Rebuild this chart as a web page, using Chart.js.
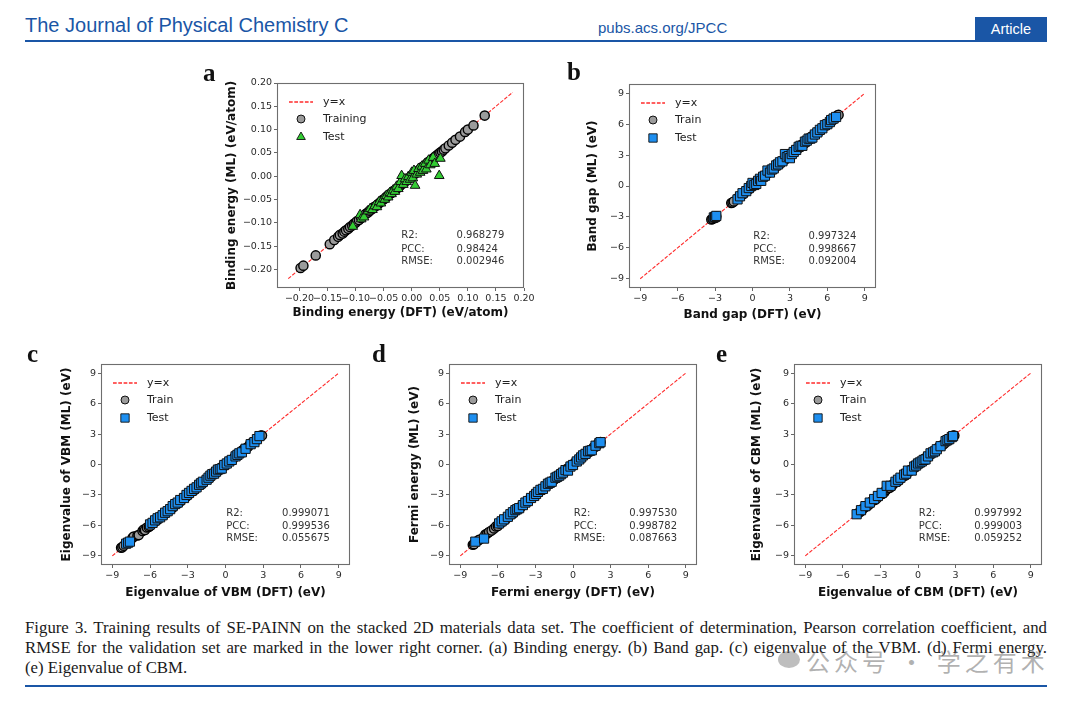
<!DOCTYPE html>
<html>
<head>
<meta charset="utf-8">
<script src="https://cdn.jsdelivr.net/npm/chart.js@4.4.1/dist/chart.umd.min.js"></script>
<style>
  body { margin: 0; width: 1080px; height: 701px; background: #fff; position: relative; overflow: hidden; }
  .abs { position: absolute; }
  canvas { position: absolute; }
  .hdr { color: #1a56a6; font-family: "Liberation Sans", Arial, sans-serif; }
  .letter { font-family: "Liberation Serif", serif; font-weight: bold; font-size: 25px; line-height: 24px; color: #111; }
  .cap { left: 25px; width: 1022px; font-family: "Liberation Serif", serif; font-size: 16.8px; line-height: 20px; color: #1a1a1a; white-space: nowrap; }
  .just { text-align: justify; text-align-last: justify; white-space: normal; }
  .rule { left: 25px; width: 1022px; height: 2px; background: #1a56a6; }
</style>
</head>
<body>

<div class="abs hdr" style="left:25px;top:14px;font-size:20px;">The Journal of Physical Chemistry C</div>
<div class="abs hdr" style="left:598px;top:19px;font-size:15px;">pubs.acs.org/JPCC</div>
<div class="abs hdr" style="left:975px;top:17px;width:72px;height:24px;background:#1a56a6;color:#fff;font-size:14.5px;line-height:24px;text-align:center;">Article</div>
<div class="abs rule" style="top:40px;"></div>

<canvas id="cA"></canvas>
<canvas id="cB"></canvas>
<canvas id="cC"></canvas>
<canvas id="cD"></canvas>
<canvas id="cE"></canvas>

<div class="abs letter" style="left:203px;top:61px;">a</div>
<div class="abs letter" style="left:567px;top:60px;">b</div>
<div class="abs letter" style="left:27px;top:342px;">c</div>
<div class="abs letter" style="left:372px;top:342px;">d</div>
<div class="abs letter" style="left:716px;top:342px;">e</div>

<div class="abs cap just" style="top:618px;">Figure 3. Training results of SE-PAINN on the stacked 2D materials data set. The coefficient of determination, Pearson correlation coefficient, and</div>
<div class="abs cap just" style="top:638px;">RMSE for the validation set are marked in the lower right corner. (a) Binding energy. (b) Band gap. (c) eigenvalue of the VBM. (d) Fermi energy.</div>
<div class="abs cap" style="top:658px;">(e) Eigenvalue of CBM.</div>
<div class="abs rule" style="top:685px;"></div>

<div class="abs" style="left:778px;top:651px;width:22px;height:17px;border-radius:50%;background:rgba(110,110,110,0.45);"></div>
<div class="abs" style="left:806px;top:643px;font-family:'Noto Sans CJK SC';font-size:24px;letter-spacing:4px;color:rgba(100,100,100,0.5);">公众号 · 学之有术</div>

<script>
// tick values
const ticksBinding = [-0.2, -0.15, -0.1, -0.05, 0, 0.05, 0.1, 0.15, 0.2];
const ticksEv = [-9, -6, -3, 0, 3, 6, 9];

// (a) binding energy, [DFT, ML]
const trainA = [[-0.198,-0.197],[-0.193,-0.192],[-0.171,-0.170],[-0.146,-0.146],[-0.138,-0.137],[-0.131,-0.130],
  [-0.128,-0.126],[-0.123,-0.123],[-0.120,-0.119],[-0.117,-0.116],[-0.113,-0.113],[-0.110,-0.109],[-0.106,-0.106],
  [-0.103,-0.102],[-0.100,-0.100],[-0.098,-0.097],[-0.094,-0.094],[-0.090,-0.090],[-0.086,-0.085],[-0.082,-0.081],
  [-0.078,-0.078],[-0.075,-0.074],[-0.071,-0.071],[-0.068,-0.067],[-0.064,-0.064],[-0.060,-0.060],[-0.056,-0.056],
  [-0.053,-0.052],[-0.049,-0.049],[-0.046,-0.046],[-0.043,-0.042],[-0.040,-0.039],[-0.036,-0.036],[-0.033,-0.032],
  [-0.029,-0.029],[-0.026,-0.026],[-0.022,-0.022],[-0.019,-0.018],[-0.015,-0.015],[-0.012,-0.012],[-0.009,-0.008],
  [-0.006,-0.005],[-0.003,-0.003],[0.000,0.001],[0.003,0.003],[0.006,0.006],[0.009,0.009],[0.012,0.012],
  [0.015,0.015],[0.018,0.019],[0.021,0.021],[0.024,0.024],[0.027,0.027],[0.030,0.031],[0.033,0.033],[0.036,0.036],
  [0.039,0.039],[0.042,0.042],[0.045,0.045],[0.048,0.048],[0.051,0.051],[0.054,0.053],[0.057,0.057],[0.060,0.060],
  [0.066,0.066],[0.072,0.072],[0.078,0.078],[0.086,0.085],[0.095,0.095],[0.100,0.100],[0.110,0.109],[0.130,0.130]];
const testA = [[-0.105,-0.108],[-0.092,-0.083],[-0.090,-0.092],[-0.085,-0.088],[-0.078,-0.075],[-0.074,-0.070],
  [-0.070,-0.072],[-0.066,-0.064],[-0.062,-0.066],[-0.058,-0.055],[-0.055,-0.058],[-0.051,-0.049],[-0.048,-0.050],
  [-0.045,-0.042],[-0.042,-0.045],[-0.039,-0.036],[-0.036,-0.038],[-0.033,-0.030],[-0.030,-0.033],[-0.027,-0.022],
  [-0.024,-0.027],[-0.020,-0.012],[-0.018,0.001],[-0.015,-0.018],[-0.012,-0.006],[-0.009,-0.012],[-0.006,-0.001],
  [-0.003,-0.007],[0.000,0.008],[0.002,-0.004],[0.004,0.012],[0.006,-0.020],[0.009,0.004],[0.012,0.016],
  [0.015,0.008],[0.018,0.021],[0.020,0.012],[0.024,0.027],[0.026,0.015],[0.030,0.034],[0.033,0.024],
  [0.038,0.040],[0.041,0.027],[0.049,0.001],[0.051,0.038]];

// (b) band gap
const trainB = [[-3.30,-3.25],[-3.20,-3.20],[-3.10,-3.05],[-3.00,-3.10],[-2.90,-2.95],[-1.70,-1.65],[-1.60,-1.60],
  [-1.50,-1.50],[-1.15,-1.15],[-1.00,-1.00],[-0.85,-0.85],[-0.70,-0.75],[-0.55,-0.50],[-0.40,-0.35],[-0.30,-0.30],
  [-0.20,-0.25],[-0.10,-0.05],[0.00,0.05],[0.10,0.10],[0.20,0.15],[0.30,0.35],[0.40,0.45],[0.50,0.50],[0.60,0.55],
  [0.70,0.70],[0.80,0.85],[0.90,0.90],[1.00,0.95],[1.10,1.15],[1.20,1.25],[1.30,1.30],[1.40,1.35],[1.50,1.55],
  [1.60,1.65],[1.70,1.70],[1.80,1.75],[1.90,1.95],[2.00,2.05],[2.10,2.10],[2.20,2.15],[2.30,2.35],[2.40,2.45],
  [2.50,2.50],[2.60,2.55],[2.70,2.75],[2.80,2.85],[2.90,2.90],[3.00,2.95],[3.10,3.15],[3.20,3.25],[3.30,3.30],
  [3.40,3.35],[3.50,3.55],[3.60,3.65],[3.70,3.70],[3.80,3.75],[3.90,3.95],[4.00,4.05],[4.10,4.10],[4.20,4.15],
  [4.30,4.35],[4.40,4.45],[4.50,4.50],[4.60,4.55],[4.70,4.75],[4.80,4.85],[4.90,4.90],[5.00,4.95],[5.10,5.15],
  [5.20,5.25],[5.35,5.30],[5.50,5.45],[5.65,5.70],[5.80,5.85],[5.95,5.90],[6.10,6.05],[6.25,6.30],[6.40,6.45],
  [6.55,6.50],[6.70,6.70],[6.80,6.85],[6.90,6.90]];
const testB = [[-3.10,-3.05],[-3.00,-3.00],[-2.90,-2.90],[-1.20,-1.30],[-1.00,-1.00],[-0.80,-0.70],[-0.50,-0.50],
  [-0.30,-0.20],[-0.10,0.00],[0.00,0.30],[0.15,0.10],[0.30,0.20],[0.45,0.50],[0.60,0.70],[0.70,0.50],[0.85,0.90],
  [1.00,1.00],[1.20,1.50],[1.40,1.30],[1.55,1.60],[1.70,1.70],[1.90,2.00],[2.05,2.10],[2.20,2.30],[2.40,2.40],
  [2.60,3.10],[2.75,2.80],[2.90,2.90],[3.00,2.70],[3.15,3.10],[3.30,3.30],[3.50,3.50],[3.70,3.80],[3.85,3.90],
  [4.00,3.90],[4.20,4.30],[4.35,4.40],[4.50,4.60],[4.65,4.60],[4.80,4.70],[5.00,5.00],[5.20,5.20],[5.40,5.45],
  [5.60,5.60],[5.80,5.90],[6.00,6.00],[6.20,6.20],[6.30,6.40],[6.50,6.55],[6.70,6.70]];

// (c) eigenvalue of VBM
const trainC = [[-8.30,-8.20],[-8.20,-8.15],[-8.10,-8.00],[-7.40,-7.25],[-7.30,-7.10],[-7.00,-7.00],[-6.90,-6.95],
  [-6.60,-6.55],[-6.50,-6.40],[-6.40,-6.45],[-6.25,-6.20],[-6.10,-6.15],[-6.00,-6.05],[-5.85,-5.80],[-5.70,-5.65],
  [-5.55,-5.60],[-5.40,-5.45],[-5.25,-5.20],[-5.10,-5.05],[-4.95,-5.00],[-4.80,-4.85],[-4.65,-4.60],[-4.50,-4.45],
  [-4.35,-4.40],[-4.20,-4.25],[-4.05,-4.00],[-3.90,-3.85],[-3.75,-3.80],[-3.60,-3.65],[-3.45,-3.40],[-3.30,-3.25],
  [-3.15,-3.20],[-3.00,-3.05],[-2.85,-2.80],[-2.70,-2.65],[-2.55,-2.60],[-2.40,-2.45],[-2.25,-2.20],[-2.10,-2.05],
  [-1.95,-2.00],[-1.80,-1.85],[-1.65,-1.60],[-1.50,-1.45],[-1.35,-1.40],[-1.20,-1.25],[-1.05,-1.00],[-0.90,-0.85],
  [-0.75,-0.80],[-0.60,-0.65],[-0.45,-0.40],[-0.30,-0.25],[-0.15,-0.20],[0.00,-0.05],[0.15,0.20],[0.30,0.35],
  [0.45,0.40],[0.60,0.55],[0.75,0.80],[0.90,0.95],[1.05,1.00],[1.20,1.15],[1.35,1.40],[1.50,1.55],[1.65,1.60],
  [1.80,1.75],[1.95,2.00],[2.10,2.15],[2.25,2.20],[2.40,2.35],[2.55,2.60],[2.70,2.75],[2.80,2.85],[2.90,2.85]];
const testC = [[-7.90,-7.80],[-7.75,-7.70],[-7.60,-7.60],[-6.00,-5.90],[-5.80,-5.75],[-5.60,-5.50],[-5.40,-5.30],
  [-5.20,-5.20],[-5.00,-5.00],[-4.80,-4.75],[-4.60,-4.60],[-4.40,-4.40],[-4.20,-4.10],[-4.00,-3.90],[-3.80,-3.75],
  [-3.60,-3.50],[-3.30,-3.30],[-3.10,-3.00],[-2.90,-2.80],[-2.70,-2.60],[-2.50,-2.40],[-2.30,-2.25],[-2.10,-2.00],
  [-1.95,-1.85],[-1.80,-1.70],[-1.50,-1.50],[-1.35,-1.30],[-1.20,-1.10],[-1.05,-0.95],[-0.90,-0.90],[-0.75,-0.70],
  [-0.60,-0.50],[-0.45,-0.45],[-0.30,-0.40],[-0.10,-0.05],[0.10,0.10],[0.30,0.30],[0.50,0.45],[0.80,0.80],
  [0.95,0.95],[1.10,1.10],[1.30,1.20],[1.60,1.55],[2.00,2.00],[2.30,2.20],[2.50,2.50],[2.70,2.80]];

// (d) Fermi energy
const trainD = [[-8.00,-7.90],[-7.90,-7.85],[-7.60,-7.50],[-7.45,-7.40],[-7.00,-6.90],[-6.85,-6.80],[-6.70,-6.65],
  [-6.50,-6.50],[-6.30,-6.30],[-6.15,-6.10],[-6.00,-6.05],[-5.85,-5.80],[-5.70,-5.70],[-5.55,-5.50],[-5.40,-5.45],
  [-5.25,-5.20],[-5.10,-5.10],[-4.95,-4.90],[-4.80,-4.85],[-4.65,-4.60],[-4.50,-4.50],[-4.35,-4.30],[-4.20,-4.25],
  [-4.05,-4.00],[-3.90,-3.90],[-3.75,-3.70],[-3.60,-3.65],[-3.45,-3.40],[-3.30,-3.30],[-3.15,-3.10],[-3.00,-3.05],
  [-2.85,-2.80],[-2.70,-2.70],[-2.55,-2.50],[-2.40,-2.45],[-2.25,-2.20],[-2.10,-2.10],[-1.95,-1.90],[-1.80,-1.85],
  [-1.65,-1.60],[-1.50,-1.50],[-1.35,-1.30],[-1.20,-1.25],[-1.05,-1.00],[-0.90,-0.90],[-0.75,-0.70],[-0.60,-0.65],
  [-0.45,-0.40],[-0.30,-0.30],[-0.15,-0.10],[0.00,-0.05],[0.15,0.20],[0.30,0.30],[0.45,0.50],[0.60,0.55],
  [0.75,0.80],[0.90,0.90],[1.05,1.10],[1.20,1.15],[1.35,1.40],[1.50,1.50],[1.65,1.70],[1.80,1.75],[1.95,2.00],
  [2.10,2.10],[2.20,2.20]];
const testD = [[-7.80,-7.60],[-7.10,-7.30],[-5.90,-5.80],[-5.70,-5.60],[-5.50,-5.40],[-5.20,-5.15],[-5.00,-4.90],
  [-4.80,-4.70],[-4.60,-4.50],[-4.45,-4.40],[-4.30,-4.30],[-4.00,-4.00],[-3.80,-3.75],[-3.60,-3.60],[-3.35,-3.30],
  [-3.10,-3.10],[-2.95,-2.90],[-2.80,-2.70],[-2.60,-2.50],[-2.40,-2.40],[-2.20,-2.15],[-2.00,-1.90],[-1.85,-1.80],
  [-1.70,-1.70],[-1.40,-1.30],[-1.25,-1.20],[-1.10,-1.10],[-0.95,-0.95],[-0.80,-0.80],[-0.60,-0.55],[-0.40,-0.60],
  [-0.20,-0.20],[0.00,-0.05],[0.30,0.30],[0.50,0.50],[0.65,0.70],[0.80,0.90],[1.00,1.05],[1.20,1.30],
  [1.35,1.35],[1.50,1.40],[1.80,1.85],[2.10,2.10],[2.20,2.20]];

// (e) eigenvalue of CBM
const trainE = [[-4.80,-4.80],[-4.65,-4.70],[-4.50,-4.55],[-4.35,-4.30],[-4.20,-4.15],[-4.05,-4.10],[-3.90,-3.95],
  [-3.75,-3.70],[-3.60,-3.55],[-3.45,-3.50],[-3.30,-3.35],[-3.15,-3.10],[-3.00,-2.95],[-2.85,-2.90],[-2.70,-2.75],
  [-2.55,-2.50],[-2.40,-2.35],[-2.25,-2.30],[-2.10,-2.15],[-1.95,-1.90],[-1.80,-1.75],[-1.65,-1.70],[-1.50,-1.55],
  [-1.35,-1.30],[-1.20,-1.15],[-1.05,-1.10],[-0.90,-0.95],[-0.75,-0.70],[-0.60,-0.55],[-0.45,-0.50],[-0.30,-0.35],
  [-0.15,-0.10],[0.00,0.05],[0.15,0.10],[0.30,0.25],[0.45,0.50],[0.60,0.65],[0.75,0.70],[0.90,0.85],[1.05,1.10],
  [1.20,1.25],[1.35,1.30],[1.50,1.45],[1.65,1.70],[1.80,1.85],[1.95,1.90],[2.10,2.05],[2.25,2.30],[2.40,2.45],
  [2.55,2.50],[2.70,2.70],[2.80,2.85],[2.90,2.85]];
const testE = [[-4.90,-4.90],[-4.55,-4.50],[-4.20,-4.10],[-3.85,-3.75],[-3.50,-3.40],[-3.20,-3.10],[-2.90,-2.80],
  [-2.50,-2.10],[-2.20,-2.10],[-1.80,-1.70],[-1.60,-1.50],[-1.40,-1.30],[-1.10,-1.00],[-0.95,-0.90],[-0.80,-0.60],
  [-0.50,-0.60],[-0.30,-0.20],[-0.15,-0.10],[0.00,0.10],[0.15,0.20],[0.30,0.30],[0.45,0.45],[0.60,0.50],
  [0.80,0.80],[1.00,1.10],[1.20,1.20],[1.35,1.30],[1.50,1.50],[1.80,1.80],[2.20,2.30],[2.35,2.40],[2.50,2.50],
  [2.70,2.70],[2.80,2.80]];

// stats text
const statsA = [["R2:", "0.968279"], ["PCC:", "0.98424"], ["RMSE:", "0.002946"]];
const statsB = [["R2:", "0.997324"], ["PCC:", "0.998667"], ["RMSE:", "0.092004"]];
const statsC = [["R2:", "0.999071"], ["PCC:", "0.999536"], ["RMSE:", "0.055675"]];
const statsD = [["R2:", "0.997530"], ["PCC:", "0.998782"], ["RMSE:", "0.087663"]];
const statsE = [["R2:", "0.997992"], ["PCC:", "0.999003"], ["RMSE:", "0.059252"]];

Chart.defaults.font.family = "DejaVu Sans";

const fmt2 = (v) => (v < 0 ? "\u2212" : "") + Math.abs(v).toFixed(2);
const fmt0 = (v) => (v < 0 ? "\u2212" : "") + Math.abs(v);

// frame, legend and the stats box drawn inside the axes
const overlay = {
  id: "overlay",
  afterDatasetsDraw(chart, args, opts) {
    const { ctx, chartArea: a } = chart;
    const w = a.right - a.left, h = a.bottom - a.top;
    ctx.save();
    ctx.strokeStyle = "#6e6e6e";
    ctx.lineWidth = 1.1;
    ctx.strokeRect(a.left + 0.5, a.top + 0.5, w - 1, h - 1);

    const ds = chart.data.datasets;
    const rows = [a.top + 19, a.top + 36, a.top + 54];
    ctx.font = '11px "DejaVu Sans"';
    ctx.textBaseline = "middle";
    ds.forEach((d, i) => {
      const y = rows[i];
      if (i === 0) {
        ctx.strokeStyle = d.borderColor;
        ctx.lineWidth = 1.3;
        ctx.setLineDash([3.7, 1.6]);
        ctx.beginPath();
        ctx.moveTo(a.left + 12, y);
        ctx.lineTo(a.left + 36, y);
        ctx.stroke();
        ctx.setLineDash([]);
      } else {
        ctx.fillStyle = d.backgroundColor;
        ctx.strokeStyle = d.borderColor;
        ctx.lineWidth = 0.9;
        Chart.helpers.drawPoint(ctx, {
          pointStyle: d.pointStyle, radius: d.pointRadius - 0.6, rotation: 0, borderWidth: 0.9,
        }, a.left + 24, y);
      }
      ctx.fillStyle = "#222";
      ctx.fillText(d.label, a.left + 46, y);
    });

    ctx.font = '10px "DejaVu Sans"';
    ctx.fillStyle = "#333";
    const sy = [0.745, 0.81, 0.87];
    opts.stats.forEach((s, i) => {
      ctx.fillText(s[0], a.left + 0.503 * w, a.top + sy[i] * h);
      ctx.fillText(s[1], a.left + 0.727 * w, a.top + sy[i] * h);
    });
    ctx.restore();
  },
};

function makePanel(p) {
  const padL = 70, padT = 12, padR = 14, padB = 42;
  const cv = document.getElementById(p.id);
  const left = p.area[0] - padL, top = p.area[1] - padT;
  const w = p.area[2] - p.area[0] + padL + padR;
  const h = p.area[3] - p.area[1] + padT + padB;
  cv.width = w; cv.height = h;
  cv.style.left = left + "px"; cv.style.top = top + "px";
  cv.style.width = w + "px"; cv.style.height = h + "px";

  const titleFont = { family: "DejaVu Sans", size: 12, weight: "bold", lineHeight: 1.2 };
  const tickOpts = {
    color: "#2a2a2a", font: { size: 9.5 }, padding: 2, autoSkip: false, maxRotation: 0, minRotation: 0,
    callback: p.fmt,
  };
  const grid = { display: true, drawOnChartArea: false, drawTicks: true, tickLength: 3, color: "#555", lineWidth: 0.9 };
  const pts = (arr) => arr.map((q) => ({ x: q[0], y: q[1] }));

  new Chart(cv.getContext("2d"), {
    type: "scatter",
    data: {
      datasets: [
        {
          label: "y=x", type: "line", data: pts(p.diag), showLine: true, pointRadius: 0,
          borderColor: "rgba(255,20,20,0.9)", borderWidth: 1.1, borderDash: [3.7, 1.6], order: 3,
        },
        {
          label: p.trainLabel, data: pts(p.train), pointStyle: "circle", pointRadius: 4.6,
          backgroundColor: "#9b9b9b", borderColor: "#000", borderWidth: 1.4, order: 2,
        },
        {
          label: "Test", data: pts(p.test), pointStyle: p.testStyle, pointRadius: p.testStyle === "triangle" ? 5.6 : 6.5,
          backgroundColor: p.testColor, borderColor: "#111", borderWidth: 1, order: 1,
        },
      ],
    },
    options: {
      responsive: false,
      animation: false,
      events: [],
      layout: { padding: { left: 0, top: padT, right: padR, bottom: 0 } },
      plugins: { legend: { display: false }, tooltip: { enabled: false }, overlay: { stats: p.stats } },
      scales: {
        x: {
          type: "linear", min: p.range[0], max: p.range[1],
          afterBuildTicks: (s) => { s.ticks = p.ticks.map((v) => ({ value: v })); },
          afterFit: (s) => { s.height = padB; s.paddingLeft = 0; s.paddingRight = 0; },
          ticks: tickOpts, grid: grid, border: { display: false },
          title: { display: true, text: p.xTitle, color: "#111", font: titleFont,
            padding: { top: 0, bottom: top + h - p.xTitleY - 7.2 } },
        },
        y: {
          type: "linear", min: p.range[0], max: p.range[1],
          afterBuildTicks: (s) => { s.ticks = p.ticks.map((v) => ({ value: v })); },
          afterFit: (s) => { s.width = padL; s.paddingTop = 0; s.paddingBottom = 0; },
          ticks: tickOpts, grid: grid, border: { display: false },
          title: { display: true, text: p.yTitle, color: "#111", font: titleFont,
            padding: { top: p.yTitleX - left - 7.2, bottom: 0 } },
        },
      },
    },
    plugins: [overlay],
  });
}

makePanel({ id: "cA", area: [277, 83, 524, 288], range: [-0.24, 0.2], ticks: ticksBinding, fmt: fmt2,
  diag: [[-0.22, -0.22], [0.18, 0.18]], train: trainA, test: testA, trainLabel: "Training",
  testStyle: "triangle", testColor: "#33cc33", stats: statsA,
  xTitle: "Binding energy (DFT) (eV/atom)", yTitle: "Binding energy (ML) (eV/atom)", xTitleY: 313, yTitleX: 232 });
makePanel({ id: "cB", area: [629, 84, 876, 288], range: [-9.9, 9.9], ticks: ticksEv, fmt: fmt0,
  diag: [[-9, -9], [9, 9]], train: trainB, test: testB, trainLabel: "Train",
  testStyle: "rect", testColor: "#1e8ff0", stats: statsB,
  xTitle: "Band gap (DFT) (eV)", yTitle: "Band gap (ML) (eV)", xTitleY: 315, yTitleX: 593 });
makePanel({ id: "cC", area: [101, 364, 350, 565], range: [-9.9, 9.9], ticks: ticksEv, fmt: fmt0,
  diag: [[-9, -9], [9, 9]], train: trainC, test: testC, trainLabel: "Train",
  testStyle: "rect", testColor: "#1e8ff0", stats: statsC,
  xTitle: "Eigenvalue of VBM (DFT) (eV)", yTitle: "Eigenvalue of VBM (ML) (eV)", xTitleY: 593, yTitleX: 67 });
makePanel({ id: "cD", area: [449, 364, 697, 565], range: [-9.9, 9.9], ticks: ticksEv, fmt: fmt0,
  diag: [[-9, -9], [9, 9]], train: trainD, test: testD, trainLabel: "Train",
  testStyle: "rect", testColor: "#1e8ff0", stats: statsD,
  xTitle: "Fermi energy (DFT) (eV)", yTitle: "Fermi energy (ML) (eV)", xTitleY: 593, yTitleX: 415 });
makePanel({ id: "cE", area: [794, 364, 1042, 565], range: [-9.9, 9.9], ticks: ticksEv, fmt: fmt0,
  diag: [[-9, -9], [9, 9]], train: trainE, test: testE, trainLabel: "Train",
  testStyle: "rect", testColor: "#1e8ff0", stats: statsE,
  xTitle: "Eigenvalue of CBM (DFT) (eV)", yTitle: "Eigenvalue of CBM (ML) (eV)", xTitleY: 593, yTitleX: 757 });
</script>
</body>
</html>
